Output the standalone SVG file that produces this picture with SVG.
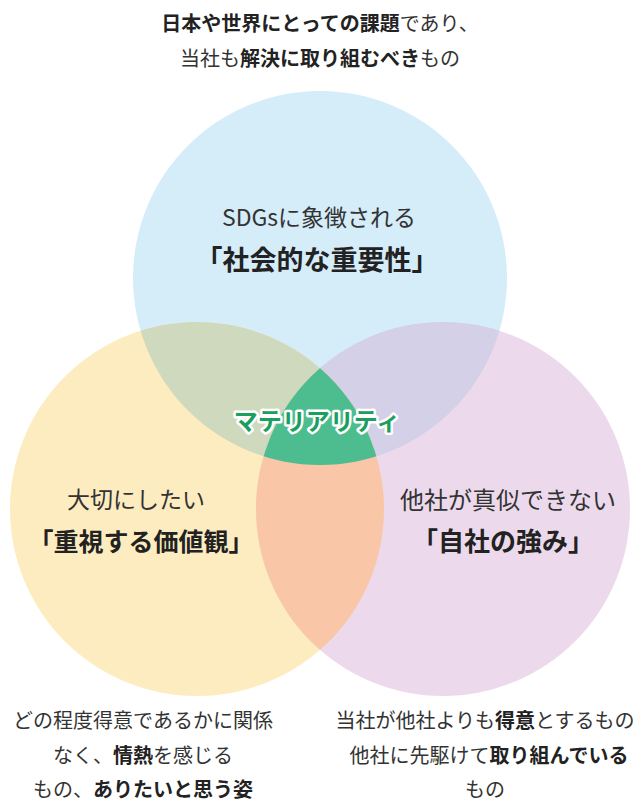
<svg xmlns="http://www.w3.org/2000/svg" width="644" height="804" viewBox="0 0 644 804">
<style>
text{font-family:"Noto Sans CJK JP","Noto Sans",sans-serif;fill:#333;text-anchor:middle}
.r{font-weight:400}
.b{font-weight:700;fill:#222}
.t{font-size:20px}
.lab{font-size:23px}
.big{font-size:26px}
.mat{font-size:24px;font-weight:700;fill:#1b9e5e;stroke:#fff;stroke-width:5px;stroke-linejoin:round;paint-order:stroke}
</style>
<defs>
<clipPath id="cA"><circle cx="320" cy="278" r="187"/></clipPath>
<clipPath id="cB"><circle cx="197" cy="509" r="187"/></clipPath>
<clipPath id="cC"><circle cx="443" cy="509" r="187"/></clipPath>
</defs>
<g id="circles">
<circle id="social" cx="320" cy="278" r="187" fill="#d5ecf9"/>
<circle id="values" cx="197" cy="509" r="187" fill="#fdecbf"/>
<circle id="strength" cx="443" cy="509" r="187" fill="#ecdaec"/>
<circle cx="197" cy="509" r="187" fill="#cfd9bd" clip-path="url(#cA)"/>
<circle cx="443" cy="509" r="187" fill="#d3d0e7" clip-path="url(#cA)"/>
<circle cx="443" cy="509" r="187" fill="#f9c6a7" clip-path="url(#cB)"/>
<g clip-path="url(#cA)"><circle id="materiality" cx="443" cy="509" r="187" fill="#4dbd8f" clip-path="url(#cB)"/></g>
</g>
<g id="top-caption">
<text class="t" x="320" y="31"><tspan class="b">日本や世界にとっての課題</tspan>であり、</text>
<text class="t" x="320" y="66">当社も<tspan class="b">解決に取り組むべき</tspan>もの</text>
</g>
<g id="label-social">
<text class="lab" x="319" y="226">SDGsに象徴される</text>
<text class="big b" x="317" y="270" style="font-size:27px">「社会的な重要性」</text>
</g>
<g id="label-values">
<text class="lab" x="136" y="508">大切にしたい</text>
<text class="big b" x="141" y="551" style="font-size:25px">「重視する価値観」</text>
</g>
<g id="label-strength">
<text class="lab" x="508" y="509" style="font-size:24px">他社が真似できない</text>
<text class="big b" x="503" y="551">「自社の強み」</text>
</g>
<g id="label-materiality">
<text class="mat" x="317" y="430">マテリアリティ</text>
</g>
<g id="bottom-left-caption">
<text class="t" x="143" y="728">どの程度得意であるかに関係</text>
<text class="t" x="143" y="763">なく、<tspan class="b">情熱</tspan>を感じる</text>
<text class="t" x="143" y="797">もの、<tspan class="b">ありたいと思う姿</tspan></text>
</g>
<g id="bottom-right-caption">
<text class="t" x="485" y="728">当社が他社よりも<tspan class="b">得意</tspan>とするもの</text>
<text class="t" x="489" y="763">他社に先駆けて<tspan class="b">取り組んでいる</tspan></text>
<text class="t" x="485" y="797">もの</text>
</g>
<g id="connectors"/>
</svg>
